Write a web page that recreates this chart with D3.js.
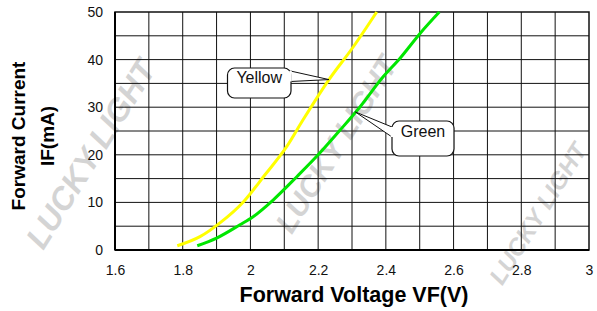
<!DOCTYPE html>
<html lang="en">
<head>
<meta charset="UTF-8">
<title>Forward Current vs Forward Voltage</title>
<script src="https://cdn.jsdelivr.net/npm/d3@7"></script>
<style>
    body { margin: 0; background: white; }
    svg { font-family: Arial, "Liberation Sans", sans-serif; }
    .grid line { stroke: #111; stroke-width: 1; }
    .tick text { font-size: 14px; fill: #111; }
</style>
</head>
<body>
<svg id="chart" width="597" height="311"></svg>
<script>
// data
const xTicks = [1.6, 1.8, 2.0, 2.2, 2.4, 2.6, 2.8, 3.0];
const yTicks = [0, 10, 20, 30, 40, 50];
const yellowV = [1.784, 1.851, 1.910, 1.979, 2.043, 2.107, 2.155, 2.232, 2.304, 2.373];
const yellowI = [0.9, 2.8, 5.7, 10.1, 15.8, 21.7, 27.3, 35.8, 42.7, 50];
const greenV = [1.843, 1.900, 1.969, 2.008, 2.067, 2.137, 2.200, 2.265, 2.324, 2.392, 2.442, 2.501, 2.558];
const greenI = [0.9, 2.5, 5.3, 7.0, 10.5, 15.4, 20.0, 25.2, 30.1, 36.4, 40.3, 45.5, 50];

const svg = d3.select('#chart');
const plotL = 115, plotR = 589, plotT = 12, plotB = 250;

const x = d3.scaleLinear().domain([1.6, 3.0]).range([plotL, plotR]);
const y = d3.scaleLinear().domain([0, 50]).range([plotB, plotT]);

// watermark, faint grey diagonal text
const marks = [
    {x: 100, y: 160, s: 32},
    {x: 345, y: 150, s: 30},
    {x: 545, y: 218, s: 24}
];
marks.forEach(m => {
    svg.append('text')
        .attr('transform', `translate(${m.x},${m.y}) rotate(-58)`)
        .attr('text-anchor', 'middle')
        .attr('font-size', m.s)
        .attr('font-weight', 'bold')
        .attr('font-style', 'italic')
        .attr('fill', '#d4d4d4')
        .text('LUCKY LIGHT');
});

// grid every 0.1 V and 5 mA
const grid = svg.append('g').attr('class', 'grid');
grid.selectAll('.v').data(d3.range(1.7, 2.95, 0.1)).join('line')
    .attr('x1', d => x(d)).attr('x2', d => x(d))
    .attr('y1', plotT).attr('y2', plotB);
grid.selectAll('.h').data(d3.range(5, 50, 5)).join('line')
    .attr('x1', plotL).attr('x2', plotR)
    .attr('y1', d => y(d)).attr('y2', d => y(d));

svg.append('rect')
    .attr('x', plotL).attr('y', plotT)
    .attr('width', plotR - plotL).attr('height', plotB - plotT)
    .attr('fill', 'none').attr('stroke', '#111').attr('stroke-width', 1.5);
svg.append('line').attr('x1', plotL).attr('x2', plotR).attr('y1', plotB).attr('y2', plotB)
    .attr('stroke', '#000').attr('stroke-width', 2);
svg.append('line').attr('x1', plotL).attr('x2', plotL).attr('y1', plotT).attr('y2', plotB)
    .attr('stroke', '#000').attr('stroke-width', 2);

// axes (labels only)
const xAxis = svg.append('g').attr('transform', `translate(0,${plotB})`)
    .call(d3.axisBottom(x).tickValues(xTicks).tickSize(0).tickPadding(15)
        .tickFormat(d => d3.format('~g')(+d.toFixed(1))));
const yAxis = svg.append('g').attr('transform', `translate(${plotL},0)`)
    .call(d3.axisLeft(y).tickValues(yTicks).tickSize(0).tickPadding(12));
xAxis.select('.domain').remove();
yAxis.select('.domain').remove();

// curves
const line = d3.line().x(d => x(d[0])).y(d => y(d[1])).curve(d3.curveMonotoneX);
svg.append('path')
    .datum(d3.zip(yellowV, yellowI))
    .attr('d', line).attr('fill', 'none')
    .attr('stroke', '#ffff00').attr('stroke-width', 3);
svg.append('path')
    .datum(d3.zip(greenV, greenI))
    .attr('d', line).attr('fill', 'none')
    .attr('stroke', '#00e600').attr('stroke-width', 3);

// callouts
function callout(bx, by, bw, bh, tip, base1, base2, label, ty) {
    const g = svg.append('g');
    g.append('path')
        .attr('d', `M${base1[0]},${base1[1]} L${tip[0]},${tip[1]} L${base2[0]},${base2[1]}`)
        .attr('fill', 'white').attr('stroke', '#111').attr('stroke-width', 1);
    g.append('rect')
        .attr('x', bx).attr('y', by).attr('width', bw).attr('height', bh)
        .attr('rx', 7).attr('fill', 'white').attr('stroke', '#111').attr('stroke-width', 1.2);
    // hide the join between tail and box
    g.append('line')
        .attr('x1', base1[0]).attr('y1', base1[1]).attr('x2', base2[0]).attr('y2', base2[1])
        .attr('stroke', 'white').attr('stroke-width', 2.5);
    g.append('text')
        .attr('x', bx + bw / 2).attr('y', ty)
        .attr('text-anchor', 'middle').attr('font-size', 16).attr('fill', '#111')
        .text(label);
}
callout(227.5, 68, 63.5, 30, [x(2.232), y(35.8)], [290.5, 71], [290.5, 81.5], 'Yellow', 83);
callout(392, 121, 62, 35, [x(2.31), y(29)], [392, 127], [392, 137], 'Green', 137);

// axis titles
svg.append('text')
    .attr('x', 354).attr('y', 302)
    .attr('text-anchor', 'middle').attr('font-size', 21.5).attr('font-weight', 'bold')
    .text('Forward Voltage VF(V)');
svg.append('text')
    .attr('transform', 'translate(25,136) rotate(-90)')
    .attr('text-anchor', 'middle').attr('font-size', 19).attr('font-weight', 'bold')
    .text('Forward Current');
svg.append('text')
    .attr('transform', 'translate(54,136) rotate(-90)')
    .attr('text-anchor', 'middle').attr('font-size', 19).attr('font-weight', 'bold')
    .text('IF(mA)');
</script>
</body>
</html>
